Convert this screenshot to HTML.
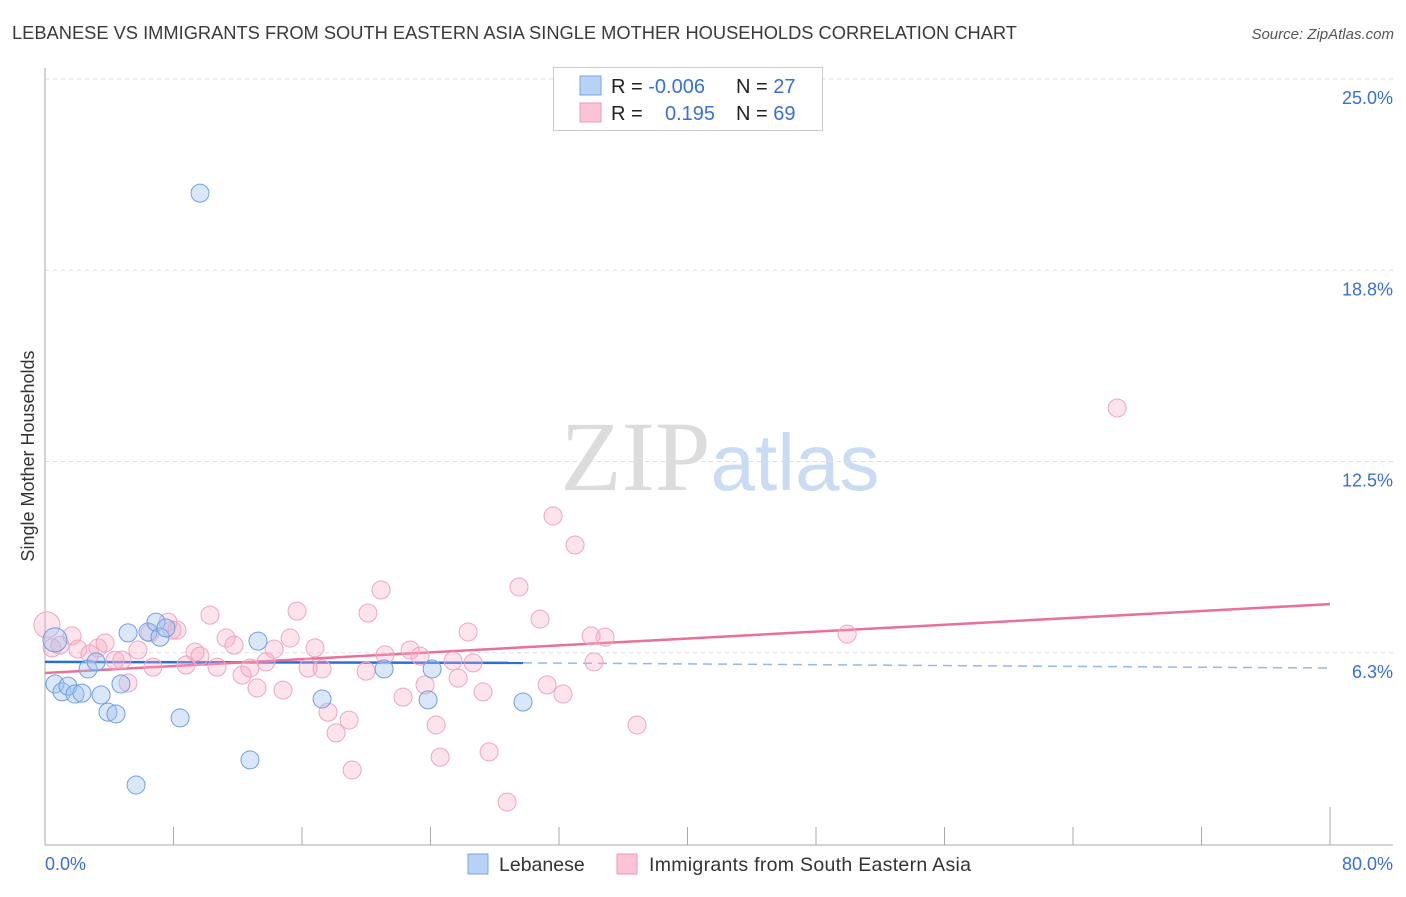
<!DOCTYPE html>
<html><head><meta charset="utf-8"><style>
body{margin:0;background:#fff;font-family:"Liberation Sans",sans-serif}
svg text{font-family:"Liberation Sans",sans-serif}
</style></head><body>
<svg id="chart" width="1406" height="892" xmlns="http://www.w3.org/2000/svg">
<text x="12" y="39" font-size="18.3" fill="#3a3a3a">LEBANESE VS IMMIGRANTS FROM SOUTH EASTERN ASIA SINGLE MOTHER HOUSEHOLDS CORRELATION CHART</text>
<text x="1394" y="39" font-size="15" fill="#555" text-anchor="end" font-style="italic">Source: ZipAtlas.com</text>
<text x="720" y="490" font-size="100" text-anchor="middle"><tspan fill="#dcdcdc" font-family="Liberation Serif">ZIP</tspan><tspan fill="#c9dcf3" font-size="80">atlas</tspan></text>
<g id="grid"></g>
<g id="axes"></g>
<g id="lines"></g>
<g id="points"></g>
<text transform="translate(34,456) rotate(-90)" font-size="18" fill="#333" text-anchor="middle">Single Mother Households</text>
<g>
<rect x="553.5" y="67.5" width="269" height="63" fill="#fff" stroke="#ccc"/>
<rect x="580" y="76" width="21" height="19" fill="#b8d2f5" stroke="#7aa6e0"/>
<rect x="580" y="103" width="21" height="19" fill="#fac4d4" stroke="#ec9ab5"/>
<text x="611" y="93" font-size="20" fill="#222">R = <tspan fill="#3a70d0">-0.006</tspan></text>
<text x="736" y="93" font-size="20" fill="#222">N = <tspan fill="#3a70d0">27</tspan></text>
<text x="611" y="120" font-size="20" fill="#222">R = </text>
<text x="665" y="120" font-size="20" fill="#3a70d0">0.195</text>
<text x="736" y="120" font-size="20" fill="#222">N = <tspan fill="#3a70d0">69</tspan></text>
</g>
<g>
<rect x="468" y="854" width="20" height="20" fill="#b8d2f5" stroke="#7aa6e0"/>
<text x="499" y="871" font-size="19.5" fill="#333">Lebanese</text>
<rect x="617" y="854" width="20" height="20" fill="#fac4d4" stroke="#ec9ab5"/>
<text x="649" y="871" font-size="19.5" fill="#333" textLength="322">Immigrants from South Eastern Asia</text>
</g>
</svg>
<script>
const yTicks=[25.0,18.8,12.5,6.3];
const yTickVals=[25,18.75,12.5,6.25];
const xTickLabels=["0.0%","80.0%"];
const blueX=[9.65,0.62,0.62,1.06,1.43,1.87,2.3,2.68,3.18,3.49,3.92,4.42,4.73,5.17,5.67,6.41,6.91,7.16,7.53,8.41,12.76,13.26,17.25,21.11,23.85,24.1,29.76];
const blueY=[21.27,6.67,5.23,4.97,5.16,4.9,4.93,5.72,5.95,4.87,4.31,4.25,5.23,6.9,1.93,6.93,7.25,6.76,7.06,4.12,2.75,6.63,4.74,5.72,4.71,5.72,4.64];
const pinkX=[0.12,0.44,0.93,1.68,2.05,2.8,3.3,3.74,4.36,4.79,5.17,5.79,6.54,6.72,7.66,7.91,8.22,8.78,9.34,9.65,10.27,10.71,11.27,11.77,12.27,12.76,13.2,13.76,14.26,14.82,15.26,15.69,16.38,16.81,17.25,17.62,18.12,18.93,19.12,19.99,20.11,20.92,21.17,22.29,22.73,23.35,23.66,24.35,24.6,25.4,25.72,26.34,26.65,27.27,27.65,28.77,29.51,30.82,31.26,31.63,32.25,33.0,34.0,34.18,34.87,36.86,49.94,66.75];
const pinkY=[7.16,6.41,6.5,6.8,6.37,6.21,6.41,6.57,6.01,6.01,5.26,6.34,6.9,5.78,7.25,6.99,6.99,5.85,6.27,6.14,7.48,5.78,6.73,6.5,5.52,5.75,5.1,5.95,6.37,5.03,6.73,7.61,5.75,6.41,5.72,4.31,3.63,4.05,2.42,5.65,7.55,8.3,6.18,4.8,6.34,6.14,5.2,3.89,2.84,5.98,5.42,6.93,5.92,4.97,3.01,1.37,8.4,7.35,5.2,10.72,4.9,9.77,6.8,5.95,6.76,3.89,6.86,14.25];
const blueTrend=[5.95,5.92,5.75]; // at x=0, 29.76, 80
const pinkTrend=[5.59,7.84]; // at x=0, 80
const NS='http://www.w3.org/2000/svg';
const X=v=>45+v*(1285/80);
const Y=v=>844-v*30.6;
function mk(tag,attrs,parent){const e=document.createElementNS(NS,tag);for(const k in attrs)e.setAttribute(k,attrs[k]);parent.appendChild(e);return e;}
const grid=document.getElementById('grid'),axes=document.getElementById('axes'),lines=document.getElementById('lines'),pts=document.getElementById('points');
yTickVals.forEach((v,i)=>{
 const l=mk('line',{x1:45,x2:1393,y1:Y(v),y2:Y(v),stroke:'#ddd','stroke-dasharray':'4,4'},grid);
 
 
 const t=mk('text',{x:1393,y:Y(v)+25,'font-size':18,fill:'#3a70d0','text-anchor':'end'},grid);
 t.textContent=yTicks[i].toFixed(1)+'%';
 
 
});
const ya=mk('line',{x1:45,x2:45,y1:68,y2:845,stroke:'#aaa'},axes);


const xa=mk('line',{x1:45,x2:1393,y1:845,y2:845,stroke:'#aaa'},axes);


for(let i=0;i<=10;i++){
 const tk=mk('line',{x1:X(i*8),x2:X(i*8),y1:i==10?807:827,y2:845,stroke:'#aaa'},axes);
 
 
}
const xl0=mk('text',{x:45,y:870,'font-size':18,fill:'#3a70d0'},axes);xl0.textContent=xTickLabels[0];


const xl1=mk('text',{x:1393,y:870,'font-size':18,fill:'#3a70d0','text-anchor':'end'},axes);xl1.textContent=xTickLabels[1];


function dot(x,y,fill,stroke,r,name){const c=mk('circle',{cx:X(x),cy:Y(y),r:r,fill:fill,stroke:stroke,'stroke-width':1},pts);
 
 }
pinkX.forEach((x,i)=>dot(x,pinkY[i],'rgba(246,170,196,0.33)','#efa6bf',i==0?13:9,'pink-point'));
blueX.forEach((x,i)=>dot(x,blueY[i],'rgba(160,196,240,0.4)','#6f9fe0',i==1?12:9,'blue-point'));
const bl=mk('line',{x1:X(0),y1:Y(blueTrend[0]),x2:X(29.76),y2:Y(blueTrend[1]),stroke:'#2a6fd6','stroke-width':2.5},lines);


const bd=mk('line',{x1:X(29.76),y1:Y(blueTrend[1]),x2:X(80),y2:Y(blueTrend[2]),stroke:'#9ab6e2','stroke-width':1.5,'stroke-dasharray':'9,6'},lines);


const pl=mk('line',{x1:X(0),y1:Y(pinkTrend[0]),x2:X(80),y2:Y(pinkTrend[1]),stroke:'#e8709a','stroke-width':2.5},lines);


</script>
</body></html>
